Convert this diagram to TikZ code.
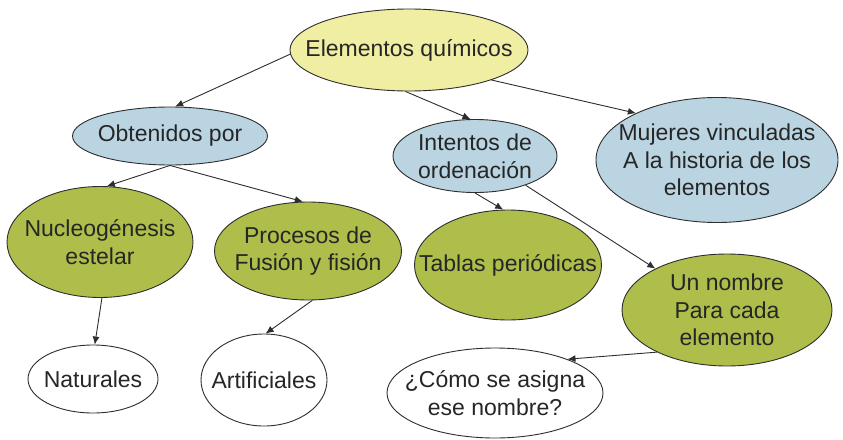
\documentclass[tikz,border=0pt]{standalone}
\usepackage{fontspec}
\setmainfont{Liberation Sans}
\usetikzlibrary{shapes.geometric,arrows.meta}
\definecolor{cyellow}{RGB}{240,238,162}
\definecolor{cblue}{RGB}{186,212,225}
\definecolor{cgreen}{RGB}{175,189,74}
\definecolor{cline}{RGB}{45,45,45}
\tikzset{
  bub/.style={ellipse, draw=cline, line width=0.9pt, inner sep=0pt},
  txt/.style={inner sep=0pt, align=center, font=\fontsize{23}{27.6}\selectfont, text=black!85},
  yel/.style={bub, fill=cyellow},
  blu/.style={bub, fill=cblue},
  grn/.style={bub, fill=cgreen},
  wht/.style={bub, fill=white},
  conn/.style={draw=cline, line width=0.9pt, -{Latex[length=8pt,width=7pt]}}
}
\begin{document}
\begin{tikzpicture}[x=1pt,y=-1pt]
\useasboundingbox (0,0) rectangle (843,439);
\node[yel, minimum width=238pt, minimum height=82pt] (elem) at (409,50) {};
\node[blu, minimum width=195pt, minimum height=58pt] (obt) at (170,136) {};
\node[blu, minimum width=164pt, minimum height=73pt] (int) at (475,156) {};
\node[blu, minimum width=242pt, minimum height=125pt] (muj) at (717,160) {};
\node[grn, minimum width=186pt, minimum height=111pt] (nuc) at (100,242) {};
\node[grn, minimum width=187pt, minimum height=98pt] (pro) at (308,251) {};
\node[grn, minimum width=187pt, minimum height=110pt] (tab) at (508,265) {};
\node[grn, minimum width=210pt, minimum height=112pt] (uno) at (727,310) {};
\node[wht, minimum width=130pt, minimum height=68pt] (nat) at (93,379) {};
\node[wht, minimum width=126pt, minimum height=92pt] (art) at (264,380) {};
\node[wht, minimum width=216pt, minimum height=90pt] (como) at (495,393) {};
\node[txt] (elemt) at (elem) {Elementos químicos};
\node[txt] (obtt) at (obt) {Obtenidos por};
\node[txt] (intt) at (int) {Intentos de\\ordenación};
\node[txt] (mujt) at (muj) {Mujeres vinculadas\\A la historia de los\\elementos};
\node[txt] (nuct) at (nuc) {Nucleogénesis\\estelar};
\node[txt] (prot) at (pro) {Procesos de\\Fusión y fisión};
\node[txt] (tabt) at (tab) {Tablas periódicas};
\node[txt] (unot) at (uno) {Un nombre\\Para cada\\elemento};
\node[txt] (natt) at (nat) {Naturales};
\node[txt] (artt) at (art) {Artificiales};
\node[txt] (comot) at (como) {¿Cómo se asigna\\ese nombre?};
\draw[conn] (elem.182) -- (obt.80);
\draw[conn] (elem.265) -- (int.97);
\draw[conn] (elem.340) -- (muj.150);
\draw[conn] (obt.270) -- (nuc.83);
\draw[conn] (obt.270) -- (pro.96);
\draw[conn] (int.270) -- (tab.95);
\draw[conn] (int.330) -- (uno.150);
\draw[conn] (nuc.272) -- (nat.87);
\draw[conn] (pro.275) -- (art.88);
\draw[conn] (uno.211) -- (como.25);
\end{tikzpicture}
\end{document}
